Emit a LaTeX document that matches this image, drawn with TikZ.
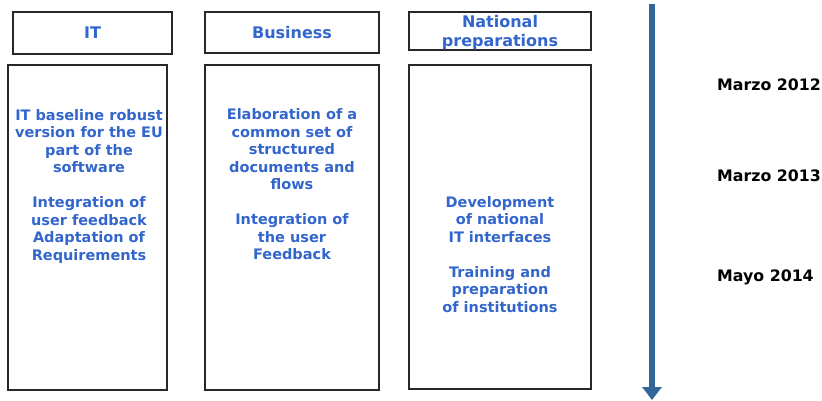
\documentclass[tikz,border=0pt]{standalone}
\usepackage{fontspec}
\setmainfont{DejaVu Sans}
\usetikzlibrary{arrows.meta}
\definecolor{txtblue}{RGB}{51,102,204}
\definecolor{arrblue}{RGB}{51,102,153}
\definecolor{frame}{RGB}{40,40,40}
\tikzset{
  box/.style={draw=frame, line width=1.1pt},
  blu/.style={text=txtblue, font=\bfseries\fontsize{14.5}{17.5}\selectfont, align=center, inner sep=0pt},
  hdr/.style={text=txtblue, font=\bfseries\fontsize{16}{19}\selectfont, align=center, inner sep=0pt},
  date/.style={text=black, font=\bfseries\fontsize{15.8}{18}\selectfont, anchor=west, inner sep=0pt},
}
\begin{document}
\begin{tikzpicture}[x=1pt,y=-1pt]
\useasboundingbox (0,0) rectangle (822,400);
% header boxes
\draw[box] (13,12) rectangle (172,54);
\draw[box] (205,12) rectangle (379,53);
\draw[box] (409,12) rectangle (591,50);
% body boxes
\draw[box] (8,65) rectangle (167,390);
\draw[box] (205,65) rectangle (379,390);
\draw[box] (409,65) rectangle (591,389);
% header texts
\node[hdr] (hit) at (92.5,33) {IT};
\node[hdr] (hbus) at (292,33) {Business};
\node[hdr] (hnat) at (500,32.5) {National\\preparations};
% body texts
\node[blu] (bit) at (89,186) {IT baseline robust\\version for the EU\\part of the\\software\\[17.5pt]Integration of\\user feedback\\Adaptation of\\Requirements};
\node[blu] (bbus) at (292,184.5) {Elaboration of a\\common set of\\structured\\documents and\\flows\\[17.5pt]Integration of\\the user\\Feedback};
\node[blu] (bnat) at (500,254.5) {Development\\of national\\IT interfaces\\[17.5pt]Training and\\preparation\\of institutions};
% timeline
\coordinate (ta) at (652,4);
\coordinate (tb) at (652,400);
\draw[arrblue, line width=6pt, -{Triangle[width=19pt,length=13pt]}] (ta) -- (tb);
\node[date] (d1) at (717,85) {Marzo 2012};
\node[date] (d2) at (717,176) {Marzo 2013};
\node[date] (d3) at (717,277) {Mayo 2014};
\end{tikzpicture}
\end{document}
